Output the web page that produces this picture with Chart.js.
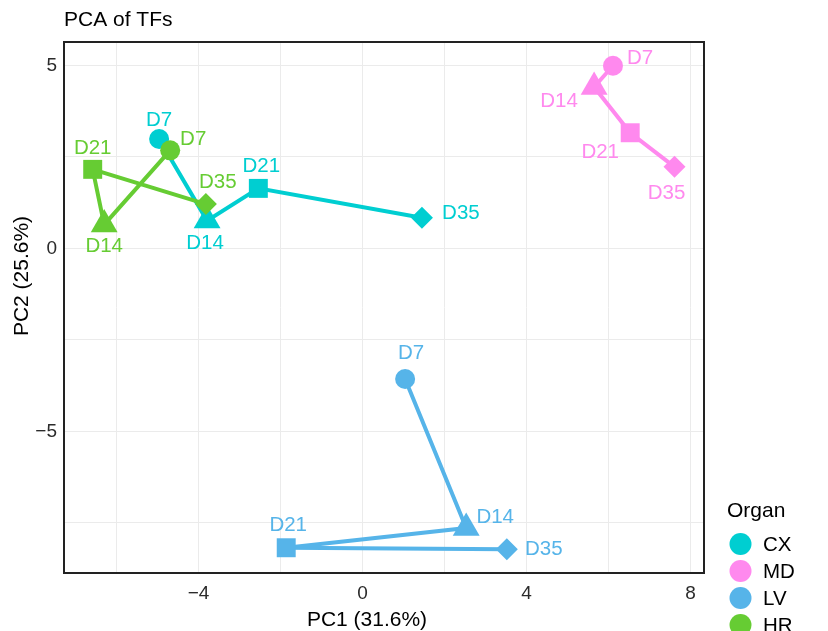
<!DOCTYPE html>
<html>
<head>
<meta charset="utf-8">
<script src="https://cdn.jsdelivr.net/npm/chart.js@4/dist/chart.umd.min.js"></script>
<style>
  html, body { margin: 0; padding: 0; background: #fff; }
  #wrap { width: 828px; height: 631px; }
</style>
</head>
<body>
<div id="wrap"><canvas id="pcaChart" width="828" height="631"></canvas></div>
<script>
const organs = ["CX", "MD", "LV", "HR"];
const timepoints = ["D7", "D14", "D21", "D35"];

// PC1 / PC2 scores, one pair of arrays per organ, in timepoint order
const cxPC1 = [-4.96, -3.79, -2.54, 1.45];
const cxPC2 = [2.99, 0.76, 1.64, 0.84];
const mdPC1 = [6.11, 5.65, 6.53, 7.61];
const mdPC2 = [4.99, 4.41, 3.16, 2.23];
const lvPC1 = [1.04, 2.53, -1.86, 3.52];
const lvPC2 = [-3.57, -7.64, -8.18, -8.22];
const hrPC1 = [-4.69, -6.30, -6.58, -3.82];
const hrPC2 = [2.68, 0.65, 2.16, 1.21];

const xGridValues = [-6, -4, -2, 0, 2, 4, 6, 8];
const xTickLabels = [-4, 0, 4, 8];
const yGridValues = [-7.5, -5, -2.5, 0, 2.5, 5];
const yTickLabels = [-5, 0, 5];

const organColors = {
  CX: "#00CED1",
  MD: "#FF89EE",
  LV: "#56B4E9",
  HR: "#66CC33",
};

const pointShapes = ["circle", "triangle", "rect", "rectRot"];
const pointSizes = [10, 15.5, 13.4, 11];

// where each text label sits relative to its point (px)
const labelOffsets = {
  CX: [[0, -19], [-2, 23], [3, -22], [39, -4]],
  MD: [[27, -7], [-35, 14], [-30, 20], [-8, 27]],
  LV: [[6, -26], [29, -11], [2, -22], [37, 0]],
  HR: [[23, -11], [0, 22], [0, -21], [12, -22]],
};

const FONT = "'Liberation Sans', Arial, Helvetica, sans-serif";

function toPoints(xs, ys) {
  return xs.map((x, i) => ({ x, y: ys[i] }));
}

function fmtTick(value) {
  return value < 0 ? `\u2212${Math.abs(value)}` : `${value}`;
}

const seriesData = {
  CX: toPoints(cxPC1, cxPC2),
  MD: toPoints(mdPC1, mdPC2),
  LV: toPoints(lvPC1, lvPC2),
  HR: toPoints(hrPC1, hrPC2),
};

const drawOrder = { HR: 1, CX: 2, MD: 3, LV: 4 };

const datasets = organs.map((organ) => ({
  label: organ,
  data: seriesData[organ],
  showLine: true,
  borderColor: organColors[organ],
  backgroundColor: organColors[organ],
  pointBackgroundColor: organColors[organ],
  pointBorderColor: organColors[organ],
  borderWidth: 4,
  pointBorderWidth: 0,
  pointStyle: pointShapes,
  pointRadius: pointSizes,
  pointHoverRadius: pointSizes,
  order: drawOrder[organ],
}));

const frameAndText = {
  id: "frameAndText",
  afterDatasetsDraw(chart) {
    const { ctx, chartArea } = chart;
    ctx.save();

    // point labels
    ctx.font = `20.5px ${FONT}`;
    ctx.textAlign = "center";
    ctx.textBaseline = "middle";
    chart.data.datasets.forEach((ds, di) => {
      const meta = chart.getDatasetMeta(di);
      meta.data.forEach((pt, i) => {
        const [dx, dy] = labelOffsets[ds.label][i];
        ctx.fillStyle = organColors[ds.label];
        ctx.fillText(timepoints[i], pt.x + dx, pt.y + dy);
      });
    });

    // panel border
    ctx.strokeStyle = "#222";
    ctx.lineWidth = 2;
    ctx.strokeRect(chartArea.left, chartArea.top, chartArea.right - chartArea.left, chartArea.bottom - chartArea.top);

    // title
    ctx.fillStyle = "#000";
    ctx.textAlign = "left";
    ctx.font = `21px ${FONT}`;
    ctx.fillText("PCA of TFs", chartArea.left, 20);

    // axis titles
    ctx.textAlign = "center";
    ctx.fillText("PC1 (31.6%)", 367, 620);
    ctx.save();
    ctx.translate(22, 276);
    ctx.rotate(-Math.PI / 2);
    ctx.fillText("PC2 (25.6%)", 0, 0);
    ctx.restore();

    // legend
    const lx = chartArea.right + 23;
    ctx.textAlign = "left";
    ctx.fillText("Organ", lx, 511);
    ctx.font = `20.5px ${FONT}`;
    organs.forEach((organ, i) => {
      const cy = 544 + i * 27;
      ctx.fillStyle = organColors[organ];
      ctx.beginPath();
      ctx.arc(lx + 13.5, cy, 11, 0, Math.PI * 2);
      ctx.fill();
      ctx.fillStyle = "#000";
      ctx.fillText(organ, lx + 36, cy + 1);
    });

    ctx.restore();
  },
};

const ctx = document.getElementById("pcaChart").getContext("2d");

new Chart(ctx, {
  type: "scatter",
  data: { datasets },
  options: {
    responsive: false,
    animation: false,
    events: [],
    layout: { padding: { top: 42, right: 124, left: 0, bottom: 0 } },
    plugins: {
      legend: { display: false },
      tooltip: { enabled: false },
      title: { display: false },
    },
    scales: {
      x: {
        type: "linear",
        min: -7.28,
        max: 8.33,
        afterBuildTicks: (scale) => {
          scale.ticks = xGridValues.map((value) => ({ value }));
        },
        afterFit: (scale) => {
          scale.height = 58;
        },
        grid: { color: "#ebebeb", lineWidth: 1, drawTicks: false },
        border: { display: false },
        ticks: {
          autoSkip: false,
          maxRotation: 0,
          padding: 9,
          color: "#2b2b2b",
          font: { family: FONT, size: 19 },
          callback: (value) => (xTickLabels.includes(value) ? fmtTick(value) : ""),
        },
      },
      y: {
        type: "linear",
        min: -8.87,
        max: 5.64,
        afterBuildTicks: (scale) => {
          scale.ticks = yGridValues.map((value) => ({ value }));
        },
        afterFit: (scale) => {
          scale.width = 64;
        },
        grid: { color: "#ebebeb", lineWidth: 1, drawTicks: false },
        border: { display: false },
        ticks: {
          autoSkip: false,
          padding: 7,
          color: "#2b2b2b",
          font: { family: FONT, size: 19 },
          callback: (value) => (yTickLabels.includes(value) ? fmtTick(value) : ""),
        },
      },
    },
  },
  plugins: [frameAndText],
});
</script>
</body>
</html>
